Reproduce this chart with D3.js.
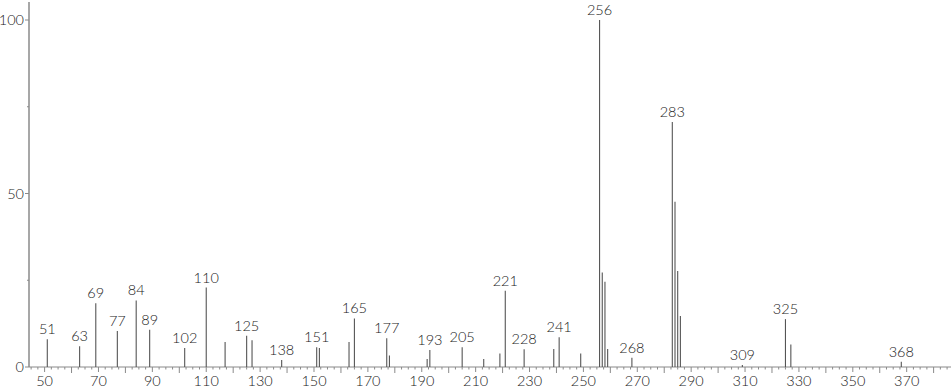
<!DOCTYPE html>
<html>
<head>
<meta charset="utf-8">
<script src="https://d3js.org/d3.v7.min.js"></script>
<style>
  body { margin: 0; background: #fff; }
  text { font-family: "Lato", "DejaVu Sans", sans-serif; font-size: 14.5px; font-weight: 300; fill: #1a1a1a; }
</style>
</head>
<body>
<div id="chart"></div>
<script>
// m/z and relative intensity
const mz = [51, 63, 69, 77, 84, 89, 102, 110, 117, 125, 127, 138, 151, 152, 163, 165, 177, 178,
  192, 193, 205, 213, 219, 221, 228, 239, 241, 249, 256, 257, 258, 259, 268, 283, 284, 285, 286,
  309, 325, 327, 368];
const intensity = [8.0, 6.0, 18.4, 10.4, 19.2, 10.7, 5.5, 22.9, 7.2, 9.0, 7.7, 2.0, 5.7, 5.5, 7.2, 14.0, 8.3, 3.3,
  2.3, 4.9, 5.7, 2.3, 3.9, 22.0, 5.1, 5.2, 8.6, 3.9, 100, 27.2, 24.6, 5.2, 2.7, 70.6, 47.6, 27.7, 14.7,
  0.6, 13.8, 6.5, 1.5];
const labelled = [51, 63, 69, 77, 84, 89, 102, 110, 125, 138, 151, 165, 177, 193, 205, 221, 228,
  241, 256, 268, 283, 309, 325, 368];
const xTicks = d3.range(50, 371, 20);
const yTicks = [0, 50, 100];

const width = 951;
const height = 389;

const svg = d3.select("#chart").append("svg")
  .attr("width", width)
  .attr("height", height);

const x = d3.scaleLinear().domain([44.21, 386.45]).range([29, 951]);
const y = d3.scaleLinear().domain([0, 100]).range([367, 20]);

const axisColor = "#8a8a8a";

// x axis line and ticks
svg.append("line")
  .attr("x1", x.range()[0]).attr("x2", x.range()[1])
  .attr("y1", y(0)).attr("y2", y(0))
  .attr("stroke", axisColor).attr("stroke-width", 1.2);

const minor = d3.range(45, 386, 2.5);
svg.selectAll(".xminor").data(minor).enter().append("line")
  .attr("x1", (d) => x(d)).attr("x2", (d) => x(d))
  .attr("y1", y(0))
  .attr("y2", (d) => y(0) + (d % 20 === 10 ? 5 : d % 10 === 0 ? 6 : 2.5))
  .attr("stroke", axisColor).attr("stroke-width", 1);

svg.selectAll(".xtick").data(xTicks).enter().append("text")
  .attr("x", (d) => x(d))
  .attr("y", 386)
  .attr("text-anchor", "middle")
  .text((d) => d);

// y axis
svg.append("line")
  .attr("x1", 29).attr("x2", 29)
  .attr("y1", 2).attr("y2", y(0))
  .attr("stroke", axisColor).attr("stroke-width", 1.5);

svg.selectAll(".yminor").data([0, 25, 50, 75, 100]).enter().append("line")
  .attr("x1", 29).attr("x2", (d) => (d % 50 === 0 ? 25 : 27))
  .attr("y1", (d) => y(d)).attr("y2", (d) => y(d))
  .attr("stroke", axisColor).attr("stroke-width", 1);

svg.selectAll(".ytick").data(yTicks).enter().append("text")
  .attr("x", 24)
  .attr("y", (d) => y(d) + 5)
  .attr("text-anchor", "end")
  .text((d) => d);

// peaks
const peaks = mz.map((m, i) => ({ mz: m, value: intensity[i] }));

svg.selectAll(".peak").data(peaks).enter().append("line")
  .attr("x1", (d) => x(d.mz)).attr("x2", (d) => x(d.mz))
  .attr("y1", y(0)).attr("y2", (d) => y(d.value))
  .attr("stroke", "#555").attr("stroke-width", 1.1);

svg.selectAll(".plabel").data(peaks.filter((d) => labelled.includes(d.mz))).enter().append("text")
  .attr("x", (d) => x(d.mz))
  .attr("y", (d) => y(d.value) - 5)
  .attr("text-anchor", "middle")
  .text((d) => d.mz);
</script>
</body>
</html>
